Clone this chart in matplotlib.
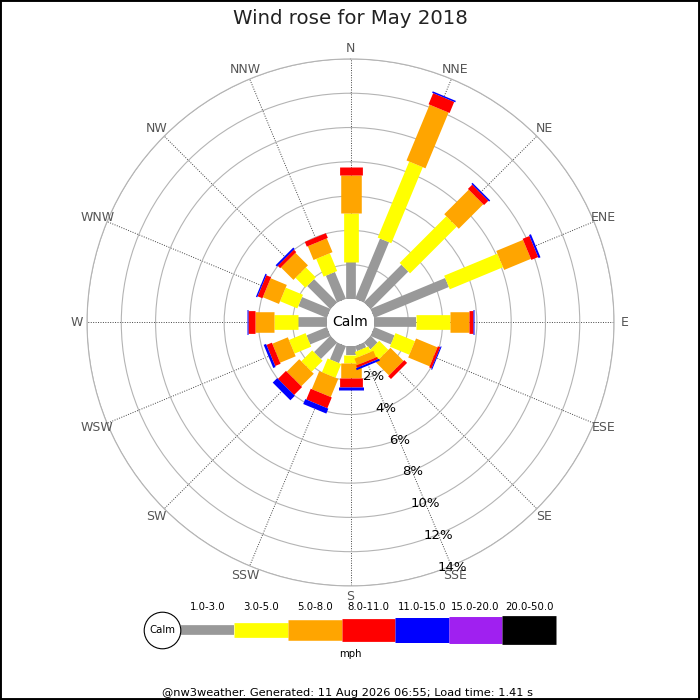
import numpy as np
import matplotlib
matplotlib.use("Agg")
import matplotlib.pyplot as plt
from matplotlib.patches import Rectangle

# ---------------- data ----------------
directions = ['N', 'NNE', 'NE', 'ENE', 'E', 'ESE', 'SE', 'SSE',
              'S', 'SSW', 'SW', 'WSW', 'W', 'WNW', 'NW', 'NNW']
speed_classes = ['1.0-3.0', '3.0-5.0', '5.0-8.0', '8.0-11.0',
                 '11.0-15.0', '15.0-20.0', '20.0-50.0']
# percentage of time per direction for each speed class (mph)
pct_1_3 = [2.16, 3.81, 3.11, 4.72, 2.45, 1.29, 0.57, 0.32,
           0.52, 1.08, 1.36, 1.29, 1.71, 1.81, 1.92, 1.70]
pct_3_5 = [2.85, 4.80, 3.85, 3.36, 1.98, 1.23, 0.75, 0.35,
           0.49, 0.87, 0.90, 1.05, 1.36, 1.09, 0.82, 1.12]
pct_5_8 = [2.22, 3.52, 2.02, 1.69, 1.13, 1.35, 1.08, 0.41,
           0.87, 1.14, 1.03, 0.98, 1.13, 1.02, 1.03, 0.87]
pct_8_11 = [0.47, 0.70, 0.35, 0.43, 0.23, 0.15, 0.23, 0.14,
            0.53, 0.68, 0.66, 0.34, 0.39, 0.30, 0.20, 0.30]
pct_11_15 = [0.00, 0.09, 0.09, 0.12, 0.07, 0.06, 0.00, 0.12,
             0.16, 0.31, 0.37, 0.15, 0.09, 0.08, 0.11, 0.00]
pct_15_20 = [0.0] * 16
pct_20_50 = [0.0] * 16
ring_values = [2, 4, 6, 8, 10, 12, 14]
unit_label = 'mph'
title = 'Wind rose for May 2018'
footer = '@nw3weather. Generated: 11 Aug 2026 06:55; Load time: 1.41 s'

# ---------------- style ----------------
colors = ['#999999', '#ffff00', '#ffa500', '#ff0000', '#0000ff', '#a020f0', '#000000']
widths = [7.0, 10.6, 14.8, 16.4, 18.0, 19.4, 20.7]
series = [pct_1_3, pct_3_5, pct_5_8, pct_8_11, pct_11_15, pct_15_20, pct_20_50]

fig = plt.figure(figsize=(7, 7), dpi=100)
fig.patch.set_facecolor('white')

ax = fig.add_axes([0.1243, 0.1629, 0.7529, 0.7529], projection='polar')
ax.set_theta_zero_location('N')
ax.set_theta_direction(-1)
ax.set_rorigin(-1.371)
ax.set_ylim(0, 14)

angles = np.deg2rad(np.arange(16) * 22.5)
ax.set_xticks(angles)
ax.set_xticklabels([])
ax.set_yticks(ring_values)
ax.set_yticklabels([])
ax.tick_params(length=0)
ax.xaxis.grid(True, color='#444444', linestyle=(0, (1, 1.5)), linewidth=0.7)
ax.yaxis.grid(True, color='#b4b4b4', linestyle='-', linewidth=0.8)
ax.spines['polar'].set_color('#b4b4b4')
ax.spines['polar'].set_linewidth(0.8)
ax.spines['inner'].set_color('none')

# stacked radial bars
bottoms = np.zeros(16)
for vals, col, lw in zip(series, colors, widths):
    vals = np.asarray(vals, dtype=float)
    for th, b, v in zip(angles, bottoms, vals):
        if v > 0:
            ax.plot([th, th], [b, b + v], color=col, linewidth=lw,
                    solid_capstyle='butt', zorder=3)
    bottoms = bottoms + vals

# direction labels
for th, name in zip(angles, directions):
    ax.text(th, 14.62, name, ha='center', va='center', fontsize=9,
            color='#555555')

# ring labels
for rv in ring_values:
    ax.text(np.deg2rad(157.5), rv + 0.07, f'{rv}%', ha='center', va='center',
            fontsize=9.5, color='black', zorder=5)

ax.text(0.5, 0.5, 'Calm', transform=ax.transAxes, ha='center', va='center',
        fontsize=10, color='black', zorder=6)

# title
fig.text(0.501, 1 - 18 / 700, title, ha='center', va='center', fontsize=14.2,
         color='#222222')

# ---------------- legend ----------------
lax = fig.add_axes([140 / 700, 40 / 700, 420 / 700, 60 / 700])
lax.set_xlim(-0.759, 7.076)
lax.set_ylim(-1, 1)
lax.axis('off')
for i, (lab, col, lw) in enumerate(zip(speed_classes, colors, widths)):
    lax.plot([i, i + 1], [0, 0], color=col, linewidth=lw, solid_capstyle='butt')
    lax.text(i + 0.5, 0.777, lab, ha='center', va='center', fontsize=7.3)
lax.scatter([-0.343], [0], s=694, facecolor='white', edgecolor='black',
            linewidth=0.8, zorder=3)
lax.text(-0.343, 0, 'Calm', ha='center', va='center', fontsize=7.3, zorder=4)
lax.text(3.17, -0.8, unit_label, ha='center', va='center', fontsize=7.3)

fig.text(347.7 / 700, 1 - 693 / 700, footer, ha='center', va='center',
         fontsize=8.2)

fig.patches.append(Rectangle((0, 0), 1, 1, transform=fig.transFigure,
                             fill=False, edgecolor='black', linewidth=2.8))

fig.savefig('out.png', dpi=100)
